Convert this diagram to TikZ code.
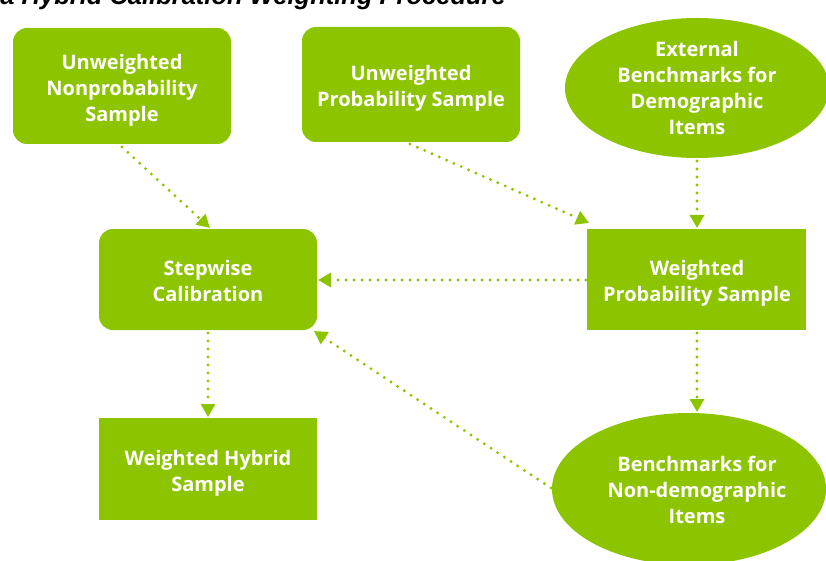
\documentclass[tikz,border=0pt]{standalone}
\usepackage{fontspec}
\setmainfont{Open Sans}
\newfontfamily\titlefont{Liberation Sans}
\usetikzlibrary{arrows.meta,shapes.geometric}
\definecolor{grn}{HTML}{8DC400}
\begin{document}
\begin{tikzpicture}[x=1pt,y=-1pt,
  every node/.style={text=white,font=\bfseries\fontsize{20}{26}\selectfont,align=center,inner sep=0pt},
  rbox/.style={fill=grn,rounded corners=14pt},
  sbox/.style={fill=grn},
  conn/.style={grn,line width=3.2pt,line cap=round,dash pattern=on 0pt off 8pt,-{Triangle[length=13pt,width=14pt]}}]
\useasboundingbox (0,0) rectangle (826,561);
\begin{scope}
\clip (0,0) rectangle (826,561);
\node[text=black,font=\titlefont\bfseries\itshape\fontsize{25.5}{28}\selectfont,anchor=base east] (title) at (506,4.5) {a Hybrid Calibration Weighting Procedure};
\end{scope}
\path[rbox] (13,28) rectangle (231,144);
\node (A) at (122,90) {Unweighted\\Nonprobability\\Sample};
\path[rbox] (302,27) rectangle (520,142);
\node (B) at (411,88.5) {Unweighted\\Probability Sample};
\path[fill=grn] (697,88) ellipse [x radius=132, y radius=70];
\node (C) at (697,88) {External\\Benchmarks for\\Demographic\\Items};
\path[rbox] (99,229) rectangle (317,330);
\node (D) at (208,281) {Stepwise\\Calibration};
\path[sbox] (587,229) rectangle (806,330);
\node (E) at (697,283.5) {Weighted\\Probability Sample};
\path[sbox] (99,418) rectangle (317,520);
\node (F) at (208,473) {Weighted Hybrid\\Sample};
\path[fill=grn] (689,489) ellipse [x radius=137, y radius=76];
\node (G) at (697,490) {Benchmarks for\\Non-demographic\\Items};
\coordinate (a1) at (122,147);
\coordinate (d1) at (210,228);
\coordinate (b1) at (410,144);
\coordinate (e1) at (589,223);
\coordinate (c1) at (697,161);
\coordinate (e2) at (697,228);
\coordinate (e3) at (586,280);
\coordinate (d2) at (318,280);
\coordinate (e4) at (697,333);
\coordinate (g1) at (697,412);
\coordinate (g2) at (551,488);
\coordinate (d3) at (314,331);
\coordinate (d4) at (208,333);
\coordinate (f1) at (208,417);
\draw[conn] (a1) -- (d1);
\draw[conn] (b1) -- (e1);
\draw[conn] (c1) -- (e2);
\draw[conn] (e3) -- (d2);
\draw[conn] (e4) -- (g1);
\draw[conn] (g2) -- (d3);
\draw[conn] (d4) -- (f1);
\end{tikzpicture}
\end{document}
